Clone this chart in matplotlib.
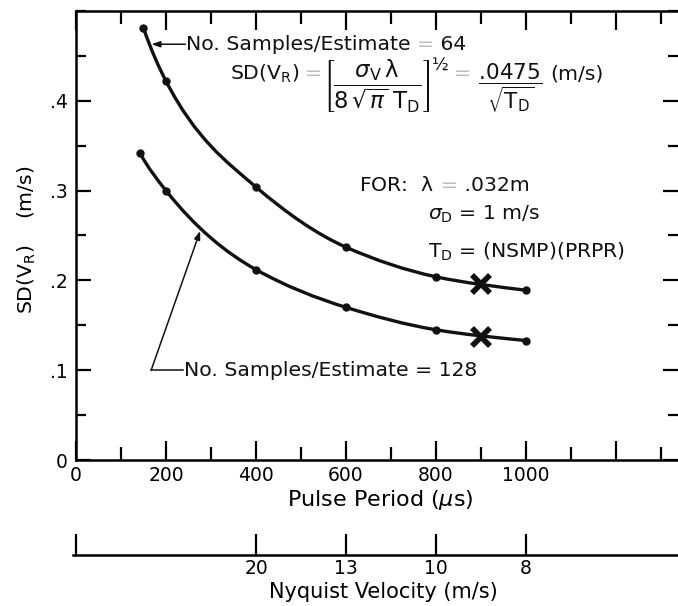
import numpy as np
import matplotlib.pyplot as plt
from matplotlib.path import Path
from matplotlib.patches import PathPatch
from matplotlib.ticker import FixedLocator, FixedFormatter, MultipleLocator

plt.rcParams.update({
    "font.family": "DejaVu Sans",
    "mathtext.fontset": "dejavusans",
})

# pulse period (us) and SD(V_R) (m/s) for the two sample counts
period_64 = [150, 200, 400, 600, 800, 1000]
sd_64 = [0.481, 0.422, 0.304, 0.237, 0.204, 0.189]
period_128 = [142, 200, 400, 600, 800, 1000]
sd_128 = [0.342, 0.300, 0.212, 0.170, 0.145, 0.133]

# operating points marked with a cross
op_period = [900, 900]
op_sd = [0.196, 0.137]

# Nyquist velocity scale under the pulse period axis
nyq_period = [0, 400, 600, 800, 1000]
nyq_labels = ["", "20", "13", "10", "8"]

x_major = [0, 200, 400, 600, 800, 1000, 1200]
x_labels = ["0", "200", "400", "600", "800", "1000", ""]
y_major = [0.0, 0.1, 0.2, 0.3, 0.4]
y_labels = ["0", ".1", ".2", ".3", ".4"]

INK = "#111111"
FADED = "#bdbdbd"   # washed-out equals signs
FS = 14.7


def smooth_path(xs, ys):
    """Cubic Bezier path through the points; slopes taken from local log-log trend."""
    xs = np.asarray(xs, float)
    ys = np.asarray(ys, float)
    lx, ly = np.log(xs), np.log(ys)
    hl = np.diff(lx)
    S = np.diff(ly) / hl
    s = np.empty_like(xs)
    s[1:-1] = (hl[:-1] * S[1:] + hl[1:] * S[:-1]) / (hl[:-1] + hl[1:])
    s[0], s[-1] = S[0], S[-1]
    m = s * ys / xs
    h = np.diff(xs)
    verts = [(xs[0], ys[0])]
    codes = [Path.MOVETO]
    for i in range(len(xs) - 1):
        verts += [(xs[i] + h[i] / 3, ys[i] + m[i] * h[i] / 3),
                  (xs[i + 1] - h[i] / 3, ys[i + 1] - m[i + 1] * h[i] / 3),
                  (xs[i + 1], ys[i + 1])]
        codes += [Path.CURVE4] * 3
    return Path(verts, codes)


def text_run(ax, pieces, x0, y0, size=FS):
    """Lay out text pieces left to right.

    Each piece is (text, color, gap_pt, dy_pt) or (text, color, gap_pt, dy_pt, size).
    """
    prev = None
    for piece in pieces:
        txt, color, gap, dy = piece[:4]
        fs = piece[4] if len(piece) > 4 else size
        if prev is None:
            xy, xyc = (x0, y0), "data"
        else:
            xy, xyc = (1, y0), (prev, "data")
        prev = ax.annotate(txt, xy=xy, xycoords=xyc,
                           xytext=(gap, dy), textcoords="offset points",
                           ha="left", va="center", fontsize=fs, color=color)
    return prev


W, H = 678, 606
fig = plt.figure(figsize=(W / 100, H / 100), dpi=100)
fig.patch.set_facecolor("white")

ax = fig.add_axes([76 / W, 1 - 460 / H, 1 - 76 / W, (460 - 11) / H])
ax.set_xlim(0, 1338)
ax.set_ylim(0, 0.5)

for side in ("left", "top", "bottom"):
    ax.spines[side].set_linewidth(1.8)
ax.spines["right"].set_visible(False)

# curves
for px, sd in [(period_64, sd_64), (period_128, sd_128)]:
    ax.add_patch(PathPatch(smooth_path(px, sd), facecolor="none",
                           edgecolor=INK, lw=2.4, zorder=3))
    ax.plot(px, sd, "o", color=INK, ms=5, zorder=4)
ax.plot(op_period, op_sd, "x", color=INK, ms=13, mew=4, zorder=5)

# ticks
ax.xaxis.set_major_locator(FixedLocator(x_major))
ax.xaxis.set_major_formatter(FixedFormatter(x_labels))
ax.xaxis.set_minor_locator(MultipleLocator(100))
ax.yaxis.set_major_locator(FixedLocator(y_major))
ax.yaxis.set_major_formatter(FixedFormatter(y_labels))
ax.yaxis.set_minor_locator(MultipleLocator(0.05))
ax.tick_params(axis="x", which="both", direction="in", top=True, bottom=True,
               width=1.6, labelsize=13.5, pad=4)
ax.tick_params(axis="x", which="major", length=14)
ax.tick_params(axis="x", which="minor", length=9.5)
ax.tick_params(axis="y", which="both", direction="in", left=True, right=True,
               width=1.6, labelsize=13.5, pad=6)
ax.tick_params(axis="y", which="major", length=11)
ax.tick_params(axis="y", which="minor", length=7)

ax.set_xlabel(r"Pulse Period ($\mu$s)", fontsize=16)
ax.xaxis.set_label_coords((380 - 76) / 602, (460 - 488) / 449)
ax.set_ylabel(r"SD(V$_\mathrm{R}$)    (m/s)", fontsize=FS)
ax.yaxis.set_label_coords((38 - 76) / 602, (460 - 240) / 449)

arrow = dict(arrowstyle="-|>,head_length=0.5,head_width=0.18",
             color=INK, lw=1.1, shrinkA=0, shrinkB=0)

# leader for the 64-sample curve
ax.annotate("", xy=(168, 0.463), xytext=(243, 0.463), arrowprops=arrow)
text_run(ax, [("No. Samples/Estimate ", INK, 0, 0),
              ("=", FADED, 0, 0),
              (" 64", INK, 0, 0)], 245, 0.463)

# leader for the 128-sample curve
ax.plot([167, 238], [0.1, 0.1], color=INK, lw=1.1)
ax.annotate("", xy=(276, 0.255), xytext=(167, 0.1), arrowprops=arrow)
ax.text(240, 0.1, "No. Samples/Estimate = 128", fontsize=FS,
        ha="left", va="center", color=INK)

# formula block
text_run(ax, [(r"SD(V$_\mathrm{R}$)", INK, 0, 0),
              ("=", FADED, 4, 0),
              (r"$\left[\dfrac{\sigma_\mathrm{V}\,\mathrm{\lambda}}"
               r"{8\,\sqrt{\pi}\;\mathrm{T_D}}\right]$", INK, 1, -9, 16.5),
              ("½", INK, 1, 6, 12.5),
              ("=", FADED, 4, 0),
              (r"$\dfrac{\mathrm{.\!0475}}{\sqrt{\mathrm{T_D}}}$", INK, 5, -10, 15.5),
              ("(m/s)", INK, 6, 0)], 342, 0.430)

text_run(ax, [(r"FOR:  $\mathrm{\lambda}$  ", INK, 0, 0),
              ("=", FADED, 0, 0),
              (" .032m", INK, 0, 0)], 629, 0.306)
ax.text(782, 0.273, r"$\sigma_\mathrm{D}$ = 1 m/s", fontsize=FS,
        ha="left", va="center", color=INK)
ax.text(782, 0.232, r"T$_\mathrm{D}$ = (NSMP)(PRPR)", fontsize=FS,
        ha="left", va="center", color=INK)

# Nyquist velocity axis
ax2 = fig.add_axes([73 / W, 1 - 555 / H, 1 - 73 / W, 0.04])
ax2.set_xlim(-7, 1338)
for side in ("left", "top", "right"):
    ax2.spines[side].set_visible(False)
ax2.spines["bottom"].set_linewidth(1.8)
ax2.set_yticks([])
ax2.xaxis.set_major_locator(FixedLocator(nyq_period))
ax2.xaxis.set_major_formatter(FixedFormatter(nyq_labels))
ax2.tick_params(axis="x", direction="in", length=15, width=1.6,
                labelsize=13.5, pad=3)
ax2.set_xlabel("Nyquist Velocity (m/s)", fontsize=15)
ax2.xaxis.set_label_coords((383 - 73) / (W - 73), -1.12)
ax2.patch.set_alpha(0)

fig.savefig("out.png", dpi=100, facecolor="white")
